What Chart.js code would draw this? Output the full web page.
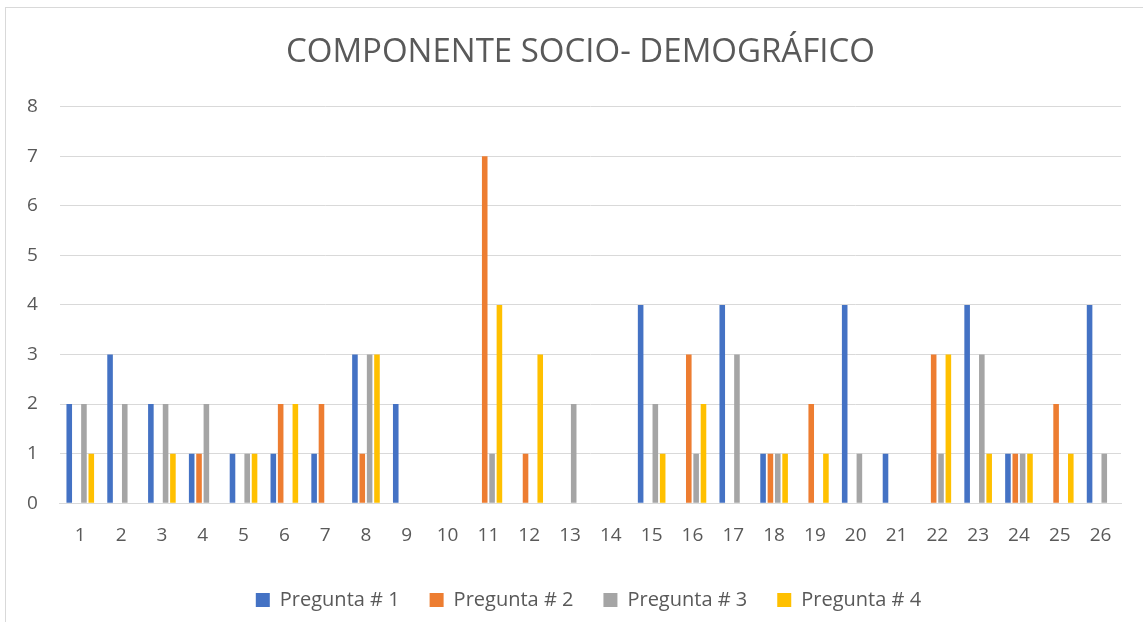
<!DOCTYPE html>
<html><head><meta charset="utf-8">
<script src="https://cdn.jsdelivr.net/npm/chart.js@4/dist/chart.umd.min.js"></script>
<style>
html,body{margin:0;padding:0;background:#fff;}
#frame{position:absolute;left:5px;top:7px;width:1150px;height:630px;border:1px solid #d9d9d9;box-sizing:border-box;}
#wrap{position:absolute;left:0;top:0;width:1143px;height:622px;}
</style></head>
<body>
<div id="frame"></div>
<div id="wrap"><canvas id="c" width="1143" height="622"></canvas></div>
<script>
const categories = ["1","2","3","4","5","6","7","8","9","10","11","12","13","14","15","16","17","18","19","20","21","22","23","24","25","26"];
const pregunta1 = [2,3,2,1,1,1,1,3,2,0,0,0,0,0,4,0,4,1,0,4,1,0,4,1,0,4];
const pregunta2 = [0,0,0,1,0,2,2,1,0,0,7,1,0,0,0,3,0,1,2,0,0,3,0,1,2,0];
const pregunta3 = [2,2,2,2,1,0,0,3,0,0,1,0,2,0,2,1,3,1,0,1,0,1,3,1,0,1];
const pregunta4 = [1,0,1,0,1,2,0,3,0,0,4,3,0,0,1,2,0,1,1,0,0,3,1,1,1,0];
const yTicks = [0,1,2,3,4,5,6,7,8];

const font = "Open Sans, Liberation Sans, sans-serif";

const placeBlocks = {
  id: 'placeBlocks',
  afterLayout(chart) {
    const a = chart.chartArea;
    if (chart.titleBlock) { chart.titleBlock.left = a.left - 20; chart.titleBlock.right = a.right; }
    if (chart.legend) { chart.legend.left = a.left - 4; chart.legend.right = a.right; }
  }
};

new Chart(document.getElementById('c'), {
  type: 'bar',
  data: {
    labels: categories,
    datasets: [
      {label: 'Pregunta # 1', data: pregunta1, backgroundColor: '#4472c4'},
      {label: 'Pregunta # 2', data: pregunta2, backgroundColor: '#ed7d31'},
      {label: 'Pregunta # 3', data: pregunta3, backgroundColor: '#a5a5a5'},
      {label: 'Pregunta # 4', data: pregunta4, backgroundColor: '#ffc000'}
    ]
  },
  plugins: [placeBlocks],
  options: {
    responsive: false,
    animation: false,
    layout: {padding: {left: 5, right: 22, top: 8, bottom: 2}},
    datasets: {bar: {categoryPercentage: 0.72, barPercentage: 0.76}},
    plugins: {
      title: {display: true, text: 'COMPONENTE SOCIO- DEMOGRÁFICO', color: '#595959',
        font: {family: font, size: 33, weight: 'normal'}, padding: {top: 25, bottom: 34}},
      legend: {position: 'bottom', labels: {color: '#595959', boxWidth: 14, boxHeight: 14,
        font: {family: font, size: 20}, padding: 30}},
      tooltip: {enabled: false}
    },
    scales: {
      x: {grid: {display: false}, border: {display: true, color: '#d9d9d9'},
        ticks: {color: '#595959', font: {family: font, size: 19}, padding: 13}},
      y: {min: 0, max: 8, afterBuildTicks: s => { s.ticks = yTicks.map(v => ({value: v})); },
        grid: {color: '#d9d9d9', lineWidth: 1, drawTicks: false},
        border: {display: false},
        ticks: {color: '#595959', font: {family: font, size: 19}, padding: 22}}
    }
  }
});
</script>
</body></html>
